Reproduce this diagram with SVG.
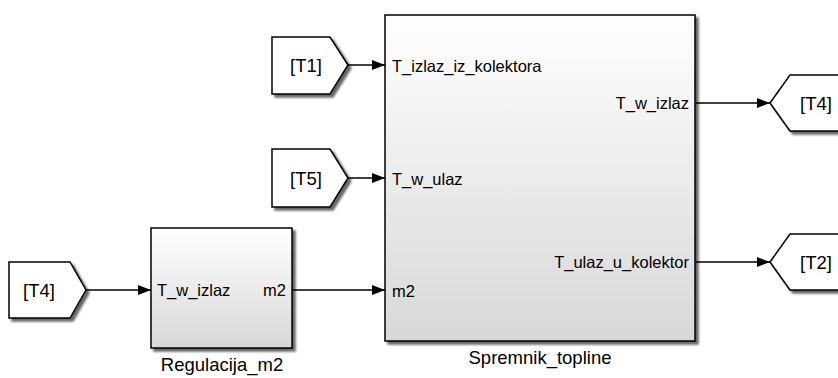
<svg xmlns="http://www.w3.org/2000/svg" width="838" height="378" viewBox="0 0 838 378">
<defs>
<linearGradient id="g" x1="0" y1="0" x2="0" y2="1">
<stop offset="0" stop-color="#ffffff"/>
<stop offset="1" stop-color="#d8d8d8"/>
</linearGradient>
<filter id="sh" x="-10%" y="-10%" width="130%" height="130%">
<feGaussianBlur in="SourceAlpha" stdDeviation="1.2"/>
<feOffset dx="2.5" dy="2.5" result="b"/>
<feComponentTransfer><feFuncA type="linear" slope="0.6"/></feComponentTransfer>
<feMerge><feMergeNode/><feMergeNode in="SourceGraphic"/></feMerge>
</filter>
<marker id="ah" markerWidth="13" markerHeight="10" refX="13" refY="5" orient="auto" markerUnits="userSpaceOnUse">
<path d="M0,0 L13,5 L0,10 Z" fill="#000"/>
</marker>
</defs>
<style>
.blk{fill:url(#g);stroke:#000;stroke-width:1.5;filter:url(#sh)}
.gt{fill:#fff;stroke:#000;stroke-width:1.5;filter:url(#sh)}
.t{font-family:"Liberation Sans",Arial,sans-serif;font-size:16.5px;fill:#000}
.n{font-family:"Liberation Sans",Arial,sans-serif;font-size:18.5px;fill:#000}
.c{fill:none;stroke:#000;stroke-width:1.5;marker-end:url(#ah)}
</style>
<g id="connectors">
<line class="c" x1="348" y1="65" x2="385" y2="65"/>
<line class="c" x1="348" y1="178" x2="385" y2="178"/>
<line class="c" x1="86" y1="290" x2="151" y2="290"/>
<line class="c" x1="292" y1="290" x2="385" y2="290"/>
<line class="c" x1="696" y1="103" x2="770" y2="103"/>
<line class="c" x1="696" y1="262" x2="770" y2="262"/>
</g>
<g id="from_T1">
<polygon class="gt" points="272,37 330,37 348,65 330,94 272,94"/>
<text class="n" x="290" y="72">[T1]</text>
</g>
<g id="from_T5">
<polygon class="gt" points="272,149 330,149 348,178 330,207 272,207"/>
<text class="n" x="290" y="185">[T5]</text>
</g>
<g id="from_T4">
<polygon class="gt" points="9,262 70,262 86,290 70,318 9,318"/>
<text class="n" x="23" y="297">[T4]</text>
</g>
<g id="Regulacija_m2">
<rect class="blk" x="151" y="228" width="141" height="120"/>
<text class="t" x="157" y="296">T_w_izlaz</text>
<text class="t" x="286" y="296" text-anchor="end">m2</text>
<text class="n" x="222" y="371" text-anchor="middle">Regulacija_m2</text>
</g>
<g id="Spremnik_topline">
<rect class="blk" x="385" y="15" width="310" height="326"/>
<text class="t" x="392" y="72">T_izlaz_iz_kolektora</text>
<text class="t" x="392" y="185">T_w_ulaz</text>
<text class="t" x="392" y="297">m2</text>
<text class="t" x="689" y="109" text-anchor="end">T_w_izlaz</text>
<text class="t" x="689" y="268" text-anchor="end">T_ulaz_u_kolektor</text>
<text class="n" x="540" y="364" text-anchor="middle">Spremnik_topline</text>
</g>
<g id="goto_T4">
<polygon class="gt" points="770,103 790,75 850,75 850,131 790,131"/>
<text class="n" x="800" y="110">[T4]</text>
</g>
<g id="goto_T2">
<polygon class="gt" points="770,262 790,234 850,234 850,290 790,290"/>
<text class="n" x="800" y="269">[T2]</text>
</g>
</svg>
